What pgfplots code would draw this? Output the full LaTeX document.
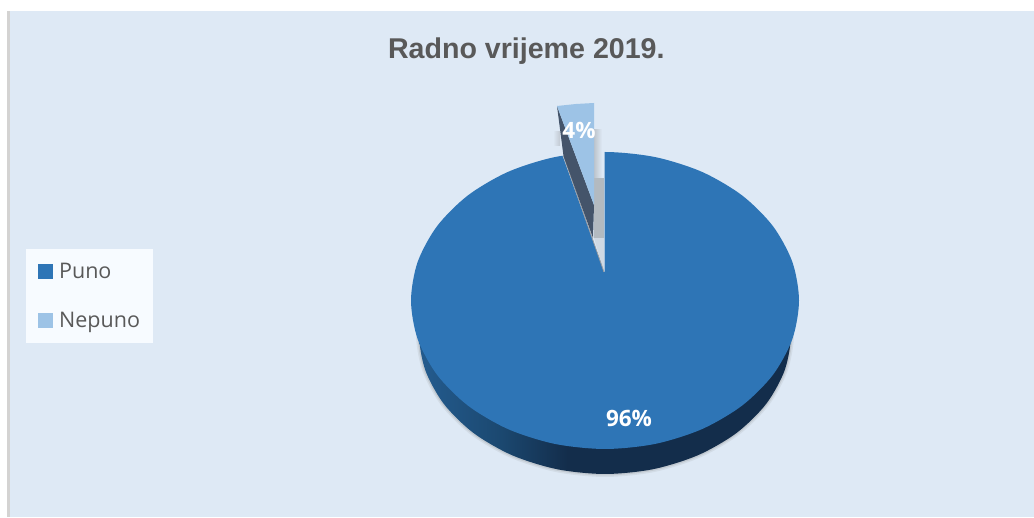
\documentclass[border=0pt]{standalone}
\usepackage{pgfplots}
\usepackage{fontspec}
\pgfplotsset{compat=1.18}
\setmainfont{Liberation Sans}
\newfontfamily\labelfont{Open Sans}

\definecolor{pagebg}{HTML}{DEE9F5}
\definecolor{strip}{HTML}{D4D3D2}
\definecolor{puno}{HTML}{2E75B6}
\definecolor{nepuno}{HTML}{9DC3E6}
\definecolor{sidedark}{HTML}{44546A}
\definecolor{legendbg}{HTML}{F7FBFF}
\definecolor{titlegray}{HTML}{595959}
\definecolor{bandA}{HTML}{235A8C}
\definecolor{bandB}{HTML}{1B4870}
\definecolor{bandC}{HTML}{132D4B}

% side of the pie gets lighter towards the left (bbox is 25bp to 75bp)
\pgfdeclarehorizontalshading{pieband}{100bp}{
  color(0bp)=(bandA);
  color(26bp)=(bandA);
  color(36bp)=(bandB);
  color(45bp)=(bandC);
  color(100bp)=(bandC)
}

\begin{document}
\begin{tikzpicture}
\begin{axis}[
    scale only axis,
    width=1034pt,
    height=517pt,
    xmin=0, xmax=1034,
    ymin=0, ymax=517,
    hide axis,
    clip=false,
    title={\bfseries\fontsize{28.6}{32}\selectfont Radno vrijeme 2019.},
    title style={at={(0.509,0.889)}, anchor=center, text=titlegray},
    legend style={
        at={(0.0251,0.3366)}, anchor=south west,
        draw=none, fill=legendbg,
        font=\labelfont\fontsize{21.5}{26}\selectfont,
        text=titlegray,
        inner xsep=11.5pt, inner ysep=12pt,
        row sep=28pt,
        /tikz/every odd column/.append style={column sep=4.5pt},
    },
    legend cell align=left,
    legend image code/.code={
        \fill[#1] (1.5pt,-7.5pt) rectangle (16.5pt,7.5pt);
    },
]
% page
\addplot[forget plot, fill=white, draw=none] coordinates {(0,0) (1034,0) (1034,517) (0,517)} --cycle;
\addplot[forget plot, fill=strip, draw=none] coordinates {(7,0) (10,0) (10,506) (7,506)} --cycle;
\addplot[forget plot, fill=pagebg, draw=none] coordinates {(10,0) (1034,0) (1034,506) (10,506)} --cycle;

% soft shadow under the pie
\addplot[forget plot, draw=gray, line width=6pt, opacity=0.12, smooth cycle] coordinates {
  (791,183) (784.7,146.8) (766.1,113) (736.5,84) (698,61.8) (653.1,47.8) (605,43) (556.9,47.8)
  (512,61.8) (473.5,84) (443.9,113) (425.3,146.8) (419,183) (425.3,219.2) (443.9,253) (473.5,282)
  (512,304.2) (556.9,318.2) (605,323) (653.1,318.2) (698,304.2) (736.5,282) (766.1,253) (784.7,219.2)};
\addplot[forget plot, draw=gray, line width=3pt, opacity=0.2, smooth cycle] coordinates {
  (791,183) (784.7,146.8) (766.1,113) (736.5,84) (698,61.8) (653.1,47.8) (605,43) (556.9,47.8)
  (512,61.8) (473.5,84) (443.9,113) (425.3,146.8) (419,183) (425.3,219.2) (443.9,253) (473.5,282)
  (512,304.2) (556.9,318.2) (605,323) (653.1,318.2) (698,304.2) (736.5,282) (766.1,253) (784.7,219.2)};
% side of the pie
\addplot[forget plot, draw=none, shading=pieband, smooth cycle] coordinates {
  (791,183) (784.7,146.8) (766.1,113) (736.5,84) (698,61.8) (653.1,47.8) (605,43) (556.9,47.8)
  (512,61.8) (473.5,84) (443.9,113) (425.3,146.8) (419,183) (425.3,219.2) (443.9,253) (473.5,282)
  (512,304.2) (556.9,318.2) (605,323) (653.1,318.2) (698,304.2) (736.5,282) (766.1,253) (784.7,219.2)};

% Puno, top face
\addplot[fill=puno, draw=none, smooth cycle] coordinates {
  (799,216.5) (792.4,254.9) (773,290.75) (742.2,321.5) (702,345.1) (655.2,359.9) (605,365) (554.8,359.9)
  (508,345.1) (467.8,321.5) (437,290.75) (417.6,254.9) (411,216.5) (417.6,178.1) (437,142.25) (467.8,111.5)
  (508,87.9) (554.8,73.1) (605,68) (655.2,73.1) (702,87.9) (742.2,111.5) (773,142.25) (792.4,178.1)};
\addlegendentry{Puno}

% gap left by the exploded slice
\addplot[forget plot, fill=pagebg, draw=none] coordinates {(604.5,245) (604.5,370) (559.5,370)} --cycle;
\addplot[forget plot, fill=pagebg!85!gray, draw=none] coordinates {(594,279) (604,279) (604,245)} --cycle;
\addplot[forget plot, draw=none, left color=gray!35!pagebg, right color=pagebg] coordinates {(594,387) (602,387) (602,339) (594,339)} --cycle;
\addplot[forget plot, fill=gray!45!pagebg, draw=none] coordinates {(594,339) (604,339) (604,279) (594,279)} --cycle;
\addplot[forget plot, draw=none, left color=pagebg, right color=gray!30!pagebg] coordinates {(553,385) (560,385) (560,371) (553,371)} --cycle;
\addplot[forget plot, draw=gray!70!pagebg, line width=0.8pt] coordinates {(563.5,361) (604,245)};

% Nepuno, side then top face
\addplot[forget plot, fill=sidedark, draw=none] coordinates {(557,411) (563.5,361) (593,279) (594,312)} --cycle;
\addplot[fill=nepuno, draw=none] coordinates {(557,411) (576,413) (594,414) (594,312)} --cycle;
\addlegendentry{Nepuno}

% data labels
\addplot[forget plot, draw=none, mark=none,
    point meta=explicit symbolic,
    nodes near coords,
    nodes near coords align={center},
    every node near coord/.append style={text=white, font=\labelfont\bfseries\fontsize{22.5}{26}\selectfont}
] coordinates {(629,99) [96\%] (579,387) [4\%]};
\end{axis}
\end{tikzpicture}
\end{document}
